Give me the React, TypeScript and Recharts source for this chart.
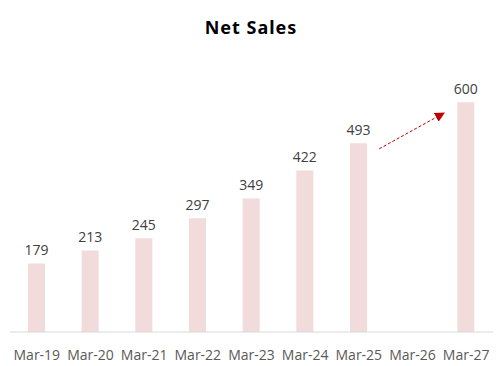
import { BarChart, Bar, XAxis, YAxis, LabelList, ReferenceLine } from "recharts";

const categories = ["Mar-19", "Mar-20", "Mar-21", "Mar-22", "Mar-23", "Mar-24", "Mar-25", "Mar-26", "Mar-27"];
const netSales = [179, 213, 245, 297, 349, 422, 493, null, 600];

// growth arrow drawn between the Mar-25 and Mar-27 columns
const arrowFrom = { x: "Mar-25", y: 449 };
const arrowTo = { x: "Mar-27", y: 604 };

const data = categories.map((month, i) => ({ month, value: netSales[i] }));

function Arrow(props: any) {
  const { x1, y1, x2, y2 } = props;
  if (x1 == null || x2 == null) return null;
  const t0 = 0.19;
  const t1 = 0.77;
  const sx = x1 + (x2 - x1) * t0;
  const sy = y1 + (y2 - y1) * t0;
  const ex = x1 + (x2 - x1) * t1;
  const ey = y1 + (y2 - y1) * t1;
  return (
    <g>
      <defs>
        <marker id="arrow-head" viewBox="0 0 10 10" refX="6" refY="5" markerWidth="10" markerHeight="10" orient="auto">
          <path d="M0,0 L10,5 L0,10 z" fill="#C00000" />
        </marker>
      </defs>
      <line x1={sx} y1={sy} x2={ex} y2={ey} stroke="#C00000" strokeWidth={1} strokeDasharray="3 2" markerEnd="url(#arrow-head)" />
    </g>
  );
}

export default function App() {
  return (
    <div style={{ position: "absolute", left: 0, top: 0, width: 502, height: 366, background: "#fff" }}>
      <div
        style={{
          position: "absolute",
          top: 15,
          left: 0,
          width: 502,
          textAlign: "center",
          fontFamily: "'Noto Sans', sans-serif",
          fontWeight: 700,
          fontSize: 18,
          letterSpacing: 1,
          color: "#000",
        }}
      >
        Net Sales
      </div>
      <BarChart width={502} height={366} data={data} margin={{ top: 64, right: 9, bottom: 4, left: 10 }}>
        <YAxis hide domain={[0, 700]} />
        <XAxis
          dataKey="month"
          axisLine={{ stroke: "#D9D9D9" }}
          tickLine={false}
          tickMargin={12}
          height={30}
          tick={{ fill: "#595959", fontSize: 14, fontFamily: "'Open Sans', sans-serif" }}
          interval={0}
        />
        <Bar dataKey="value" fill="#F2DCDB" barSize={17} isAnimationActive={false}>
          <LabelList dataKey="value" position="top" offset={8} fill="#404040" fontSize={14} fontFamily="'Open Sans', sans-serif" />
        </Bar>
        <ReferenceLine
          segment={[arrowFrom, arrowTo]}
          ifOverflow="visible"
          shape={<Arrow />}
        />
      </BarChart>
    </div>
  );
}
